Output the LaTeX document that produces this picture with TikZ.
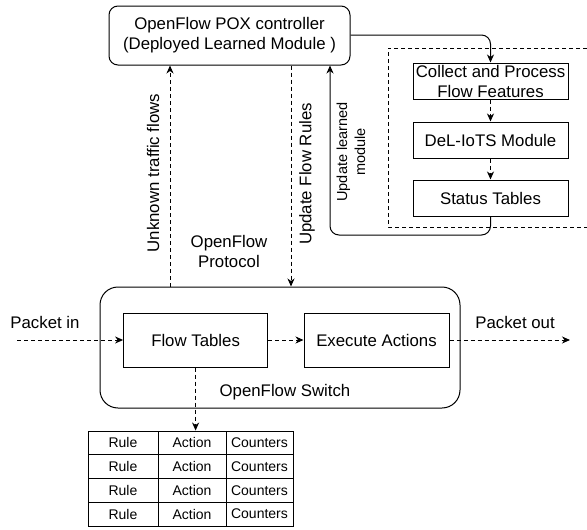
\documentclass[tikz,border=0pt]{standalone}
\usepackage{fontspec}
\setmainfont{Liberation Sans}
\usetikzlibrary{arrows.meta}
\begin{document}
\begin{tikzpicture}[x=1pt,y=-1pt,
  lw/.style={line width=1pt},
  box/.style={lw,draw,rectangle,inner sep=0pt,align=center,font=\fontsize{16.8}{20}\selectfont},
  rbox/.style={box,rounded corners=#1},
  cell/.style={draw,line width=0.9pt,rectangle,inner sep=0pt,minimum height=23.75pt,font=\fontsize{14}{16}\selectfont},
  lbl/.style={inner sep=0pt,align=center,font=\fontsize{16.8}{20}\selectfont},
  small/.style={inner sep=0pt,align=center,font=\fontsize{14.5}{18}\selectfont},
  tip/.style={-{Stealth[length=8pt,width=7pt,inset=2.5pt]}},
  dline/.style={lw,dash pattern=on 4pt off 3pt,tip},
  sline/.style={lw,tip,rounded corners=9pt},
  frame/.style={lw,dash pattern=on 4pt off 3pt}]
\useasboundingbox (0,0) rectangle (587,530);

% controller
\node[rbox=9pt,minimum width=241pt,minimum height=59pt] (ctrl) at (229.5,35.5)
  {OpenFlow POX controller\\(Deployed Learned Module )};

% learned module pipeline
\draw[frame] (587,48) -- (388,48) -- (388,227) -- (587,227);
\node[box,minimum width=155pt,minimum height=36pt] (coll) at (490.5,81)
  {Collect and Process\\Flow Features};
\node[box,minimum width=155pt,minimum height=36pt] (del) at (490.5,140) {DeL-IoTS Module};
\node[box,minimum width=155pt,minimum height=36pt] (stat) at (490.5,198) {Status Tables};

% switch
\node[rbox=18pt,minimum width=360pt,minimum height=121pt] (sw) at (280,347.5) {};
\node[box,minimum width=144pt,minimum height=54pt] (ft) at (195.6,340) {Flow Tables};
\node[box,minimum width=145pt,minimum height=54pt] (ex) at (376.5,340) {Execute Actions};
\node[lbl] (swl) at (285,392) {OpenFlow Switch};

% flow table entries
\foreach \r/\y in {1/442.875,2/466.625,3/490.375,4/514.125}{
  \node[cell,minimum width=70pt] (r\r c1) at (123,\y) {Rule};
  \node[cell,minimum width=68pt] (r\r c2) at (192,\y) {Action};
  \node[cell,minimum width=67pt] (r\r c3) at (259.5,\y) {Counters};
}

% free ends and line positions
\coordinate (pin) at (17,340);
\coordinate (pout) at (570,340);
\coordinate (ukx) at (170,0);
\coordinate (ufx) at (291,0);
\coordinate (ulx) at (330,0);
\coordinate (bot) at (0,235);

% connectors
\draw[dline] (pin) -- (ft.west);
\draw[dline] (ft) -- (ex);
\draw[dline] (ex.east) -- (pout);
\draw[dline] (ft.south) -- (ft.south |- r1c2.north);
\draw[dline] (sw.north -| ukx) -- (ctrl.south -| ukx);
\draw[dline] (ctrl.south -| ufx) -- (sw.north -| ufx);
\draw[sline] (ctrl.east |- 0,35) -| (coll.north);
\draw[dline] (coll) -- (del);
\draw[dline] (del) -- (stat);
\draw[sline] (stat.south) -- (stat.south |- bot) -| (ctrl.south -| ulx);

% labels
\node[lbl] (pinl) at (45,322) {Packet in};
\node[lbl] (poutl) at (515,322) {Packet out};
\node[lbl,rotate=90] (ukl) at (153,173) {Unknown traffic flows};
\node[lbl,rotate=90] (ufl) at (307,174) {Update Flow Rules};
\node[small,rotate=90] (ull) at (351,152) {Update learned\\module};
\node[lbl] (ofp) at (229,251) {OpenFlow\\Protocol};
\end{tikzpicture}
\end{document}
